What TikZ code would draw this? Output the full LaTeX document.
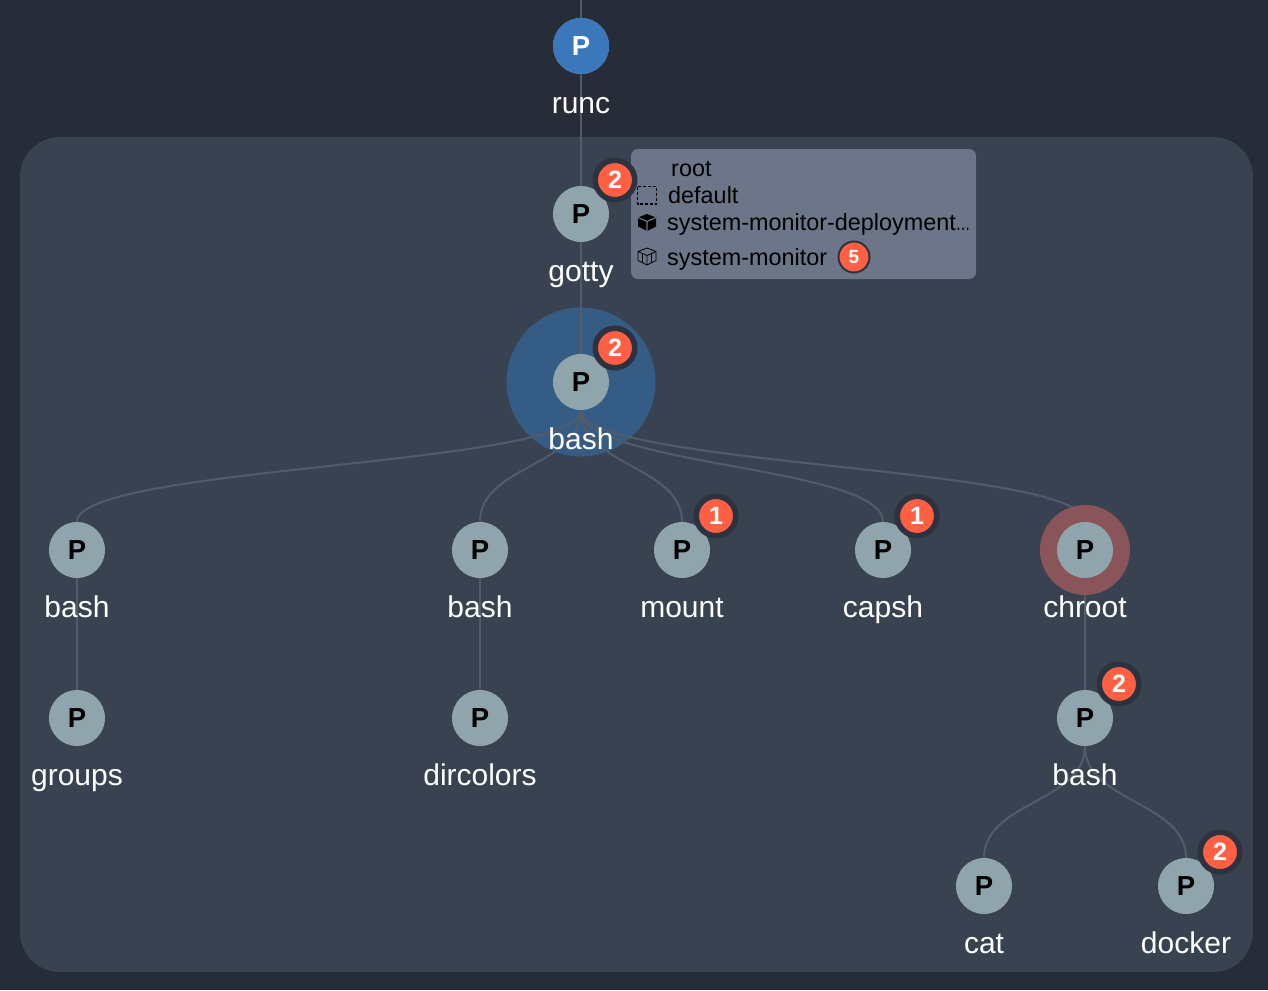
\documentclass[tikz,border=0pt]{standalone}
\usepackage{fontspec}
\setmainfont{Liberation Sans}
\usetikzlibrary{calc,backgrounds}
\definecolor{pagebg}{HTML}{262C38}
\definecolor{panelbg}{HTML}{394250}
\definecolor{linkcol}{HTML}{525B6A}
\definecolor{proccol}{HTML}{90A4AB}
\definecolor{rootcol}{HTML}{3B78BB}
\definecolor{badgecol}{HTML}{FF6043}
\definecolor{badgerim}{HTML}{2C3240}
\definecolor{tipcol}{HTML}{6D7688}
\definecolor{haloblue}{HTML}{3276B8}
\definecolor{ringred}{HTML}{8A545B}
\tikzset{
	proc/.style={circle, fill=proccol, minimum size=56pt, inner sep=0pt, font=\fontsize{27.5}{27.5}\selectfont\bfseries, text=black},
	proclabel/.style={anchor=base, text=white, inner sep=0pt, font=\fontsize{30}{30}\selectfont},
	badge/.style={circle, fill=badgecol, draw=badgerim, line width=5.5pt, minimum size=39.5pt, inner sep=0pt, text=white, font=\fontsize{25}{25}\selectfont\bfseries},
	smallbadge/.style={badge, line width=2pt, minimum size=31pt, font=\fontsize{19}{19}\selectfont\bfseries},
	link/.style={draw=linkcol, line width=2pt},
	tiptext/.style={anchor=base west, text=black, inner sep=0pt, font=\fontsize{23.4}{23.4}\selectfont},
}
% curved link between two processes
\newcommand{\proclink}[2]{\draw[link] (#1.south) .. controls ($(#1.south)+(0,56)$) and ($(#2.north)+(0,-56)$) .. (#2.north);}
\begin{document}
\begin{tikzpicture}[x=1pt, y=-1pt, line join=round]
	\useasboundingbox (0,0) rectangle (1268,990);
	\node[circle, fill=ringred, minimum size=90pt, inner sep=0pt] (chrootring) at (1085,550) {};
	% tooltip
	\node[fill=tipcol, rounded corners=7pt, minimum width=345pt, minimum height=130pt, inner sep=0pt] (tip) at (803.5,214) {};
	\node[tiptext] (tiproot) at (671,176) {root};
	\node[tiptext] (tipns) at (668,203) {default};
	\node[tiptext] (tipdep) at (667,230) {system-monitor-deployment\scalebox{.62}[1]{…}};
	\node[tiptext] (tipcont) at (667,265) {system-monitor};
	\node[smallbadge] (tipbadge) at (854,257) {\raisebox{-1pt}{5}};
	\draw[black, line width=1.2pt, dash pattern=on 3pt off 2pt] (637.5,186.5) rectangle (656.5,204);
	\fill[black] (647,214) -- (656,217.5) -- (656,226.5) -- (647,231) -- (638,226.5) -- (638,217.5) -- cycle;
	\draw[tipcol, line width=1.2pt] (638,217.5) -- (647,221.5) -- (656,217.5) (647,221.5) -- (647,231);
	\draw[black, line width=.8pt] (647,248) -- (656,251.5) -- (656,260.5) -- (647,265) -- (638,260.5) -- (638,251.5) -- cycle
		(638,251.5) -- (647,255.5) -- (656,251.5) (647,255.5) -- (647,265) (642.5,253.5) -- (642.5,263) (651.5,253.5) -- (651.5,263);
	% processes
	\foreach \name/\x/\y/\txt in {runc/581/46/runc, gotty/581/214/gotty, bashmain/581/382/bash, bashl/77/550/bash, groups/77/718/groups, bashm/480/550/bash, dircolors/480/718/dircolors, mount/682/550/mount, capsh/883/550/capsh, chroot/1085/550/chroot, bashr/1085/718/bash, cat/984/886/cat, docker/1186/886/docker}
	{
		\node[proc] (\name) at (\x,\y) {\raisebox{-1pt}{P}};
		\node[proclabel] (\name text) at (\x,\y+67) {\txt};
	}
	\node[proc, fill=rootcol, text=white] (runc) at (581,46) {\raisebox{-1pt}{P}};
	% alert badges
	\foreach \name/\n in {gotty/2, bashmain/2, mount/1, capsh/1, bashr/2, docker/2}
		\node[badge] (\name badge) at ($(\name)+(34,-34)$) {\raisebox{-1pt}{\n}};
	\coordinate (top) at (581,0);
	\begin{scope}[on background layer]
		\fill[pagebg] (0,0) rectangle (1268,990);
		\fill[panelbg, rounded corners=40pt] (20,137) rectangle (1253,972);
		\node[circle, fill=haloblue, fill opacity=.5, minimum size=149pt, inner sep=0pt] (bashhalo) at (581,382) {};
		\draw[link] (top) -- (runc.north);
		\draw[link] (runc.south) -- (gotty.north);
		\draw[link] (gotty.south) -- (bashmain.north);
		\foreach \kid in {bashl, bashm, mount, capsh, chroot} \proclink{bashmain}{\kid}
		\draw[link] (bashl.south) -- (groups.north);
		\draw[link] (bashm.south) -- (dircolors.north);
		\draw[link] (chroot.south) -- (bashr.north);
		\proclink{bashr}{cat}
		\proclink{bashr}{docker}
	\end{scope}
\end{tikzpicture}
\end{document}
